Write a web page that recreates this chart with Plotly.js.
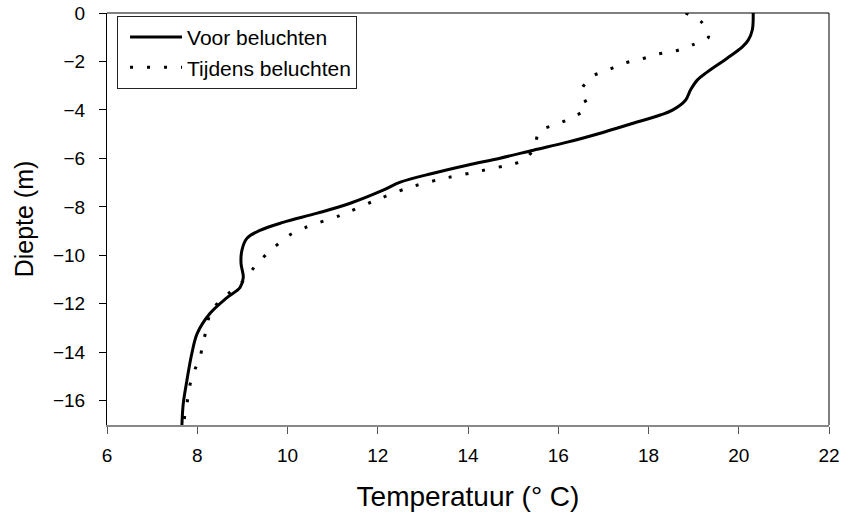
<!DOCTYPE html>
<html>
<head>
<meta charset="utf-8">
<script src="https://cdn.plot.ly/plotly-3.0.1.min.js"></script>
<style>html,body{margin:0;padding:0;background:#fff;}#chart{width:844px;height:512px;}</style>
</head>
<body>
<div id="chart"></div>
<script>
// Voor beluchten (solid)
const voorTemp = [20.32, 20.30, 20.21, 20.08, 19.75, 19.30, 19.08, 18.93, 18.82, 18.53, 18.26, 17.66, 16.93, 16.20, 15.45, 14.71, 13.98, 13.23, 12.50, 12.12, 11.39, 10.66, 9.90, 9.39, 9.10, 8.99, 8.97, 9.02, 8.95, 8.66, 8.28, 8.00, 7.88, 7.77, 7.69, 7.66];
const voorDepth = [0, -0.70, -1.12, -1.40, -1.86, -2.44, -2.77, -3.18, -3.60, -4.01, -4.21, -4.55, -4.96, -5.33, -5.66, -5.99, -6.28, -6.61, -6.98, -7.31, -7.85, -8.26, -8.64, -8.97, -9.30, -9.79, -10.33, -10.91, -11.32, -11.74, -12.40, -13.22, -14.05, -15.17, -16.12, -17.0];
// Tijdens beluchten (dotted)
const tijdensTemp = [18.82, 19.19, 19.33, 18.97, 18.59, 18.22, 17.84, 17.46, 17.09, 16.73, 16.51, 16.64, 16.32, 15.95, 15.58, 15.47, 15.25, 14.87, 14.14, 13.38, 12.65, 11.90, 11.17, 10.41, 10.04, 9.68, 9.33, 9.05, 8.68, 8.30, 8.22, 8.13, 8.06, 7.91, 7.82, 7.77, 7.71, 7.70];
const tijdensDepth = [0, -0.40, -0.99, -1.32, -1.57, -1.69, -1.90, -2.07, -2.36, -2.64, -3.22, -3.88, -4.31, -4.60, -4.88, -5.54, -6.07, -6.28, -6.57, -6.86, -7.23, -7.77, -8.35, -8.84, -9.17, -9.71, -10.33, -11.00, -11.60, -12.30, -12.93, -13.60, -14.21, -14.88, -15.50, -16.16, -16.78, -17.0];
const xTicks = [6, 8, 10, 12, 14, 16, 18, 20, 22];
const yTicks = [0, -2, -4, -6, -8, -10, -12, -14, -16];
const yTickText = ['0', '\u22122', '\u22124', '\u22126', '\u22128', '\u221210', '\u221212', '\u221214', '\u221216'];

const FONT = 'Liberation Sans, Arial, sans-serif';

const traces = [
  {x: voorTemp, y: voorDepth, name: 'Voor beluchten', mode: 'lines',
   line: {color: '#000', width: 3, shape: 'spline', smoothing: 1}},
  {x: tijdensTemp, y: tijdensDepth, name: 'Tijdens beluchten', mode: 'lines',
   line: {color: '#000', width: 3, dash: '3px,14px', shape: 'spline', smoothing: 0.8}}
];

const layout = {
  width: 844, height: 512,
  margin: {l: 107, r: 15, t: 13, b: 87},
  paper_bgcolor: '#fff', plot_bgcolor: '#fff',
  font: {family: FONT, color: '#000', size: 19},
  showlegend: true,
  legend: {x: 0.0139, y: 0.993, xanchor: 'left', yanchor: 'top',
    bgcolor: '#fff', bordercolor: '#222', borderwidth: 1, indentation: 7,
    font: {family: FONT, size: 21, color: '#000'}, itemwidth: 52, tracegroupgap: 0},
  xaxis: {range: [6, 22], tickvals: xTicks, ticktext: xTicks.map(String),
    showgrid: false, zeroline: false, showline: true, linecolor: '#888', linewidth: 2,
    ticks: 'outside', ticklen: 7, tickcolor: '#555', tickwidth: 1, ticklabelstandoff: 5,
    tickfont: {family: FONT, size: 19, color: '#000'},
    title: {text: 'Temperatuur (° C)', font: {family: FONT, size: 28, color: '#000'}, standoff: 22}},
  yaxis: {range: [-17, 0], tickvals: yTicks, ticktext: yTickText,
    showgrid: false, zeroline: false, showline: true, linecolor: '#000', linewidth: 1,
    ticks: 'outside', ticklen: 7, tickcolor: '#000', tickwidth: 1, ticklabelstandoff: 10,
    tickfont: {family: FONT, size: 19, color: '#000'},
    title: {text: 'Diepte (m)', font: {family: FONT, size: 25, color: '#000'}, standoff: 12}},
  shapes: [
    {type: 'line', xref: 'paper', yref: 'paper', x0: 0, x1: 1, y0: 1, y1: 1, line: {color: '#000', width: 1}},
    {type: 'line', xref: 'paper', yref: 'paper', x0: 1, x1: 1, y0: 0, y1: 1, line: {color: '#000', width: 1}}
  ]
};

Plotly.newPlot('chart', traces, layout, {displayModeBar: false, staticPlot: true});
</script>
</body>
</html>
